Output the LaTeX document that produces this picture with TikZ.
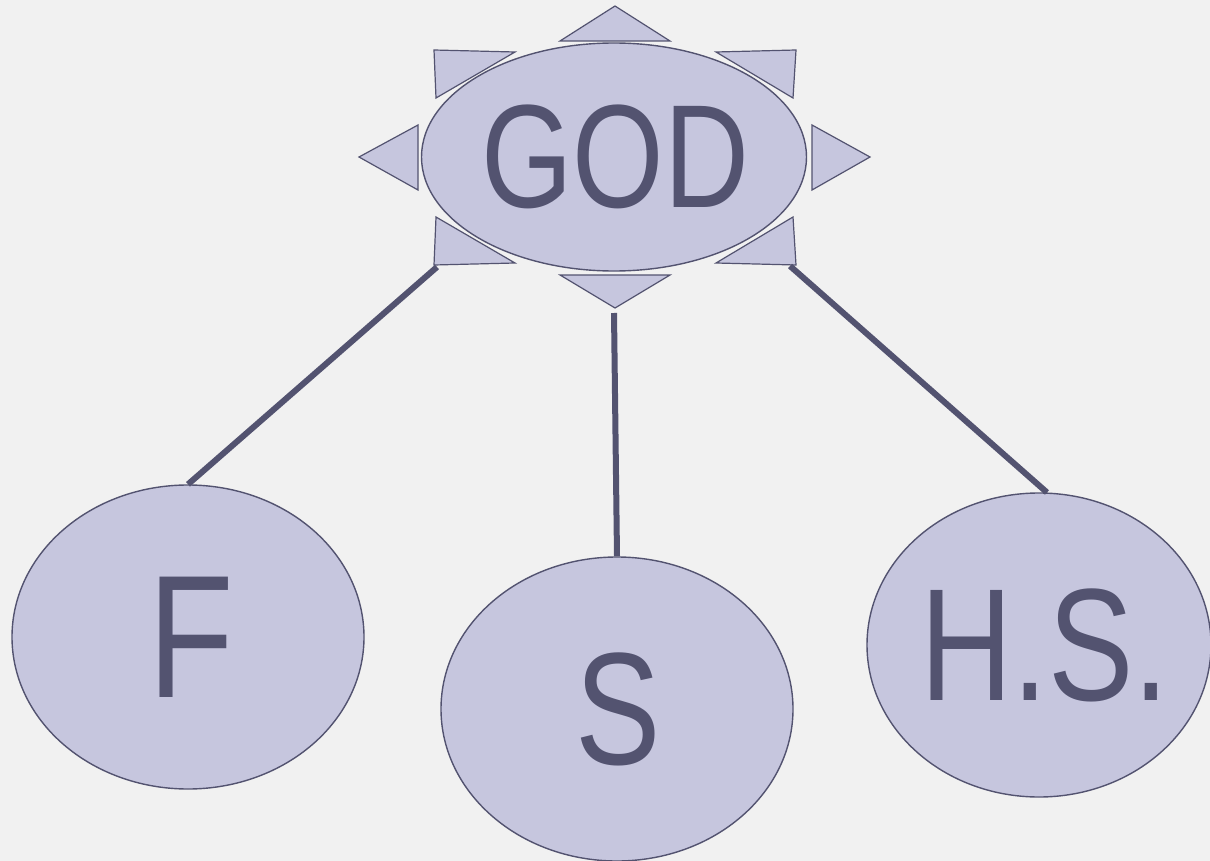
\documentclass[tikz,border=0pt]{standalone}
\usepackage{fontspec}
\setmainfont{Liberation Sans}
\usetikzlibrary{shapes.geometric}
\definecolor{bgc}{HTML}{F1F1F1}
\definecolor{fillc}{HTML}{C6C6DE}
\definecolor{darkc}{HTML}{535370}
\tikzset{
  blob/.style={ellipse, draw=darkc, fill=fillc, line width=1.4pt, inner sep=0pt, text=darkc},
  ray/.style={draw=darkc, fill=fillc, line width=1.2pt, line join=miter},
  conn/.style={draw=darkc, line width=6pt}
}
\newcommand{\lbl}[3]{\makebox[0pt][c]{\hspace*{#3}\raisebox{-4pt}{\fontsize{#1}{#1}\selectfont\scalebox{0.8}[1]{#2}}}}
\begin{document}
\begin{tikzpicture}[x=1pt,y=-1pt]
\useasboundingbox (0,0) rectangle (1210,861);
\fill[bgc] (0,0) rectangle (1210,861);
% rays around GOD
\draw[ray] (560,41) -- (670,41) -- (615,6) -- cycle;
\draw[ray] (560,275) -- (670,275) -- (615,308) -- cycle;
\draw[ray] (418,125) -- (418,190) -- (359,157) -- cycle;
\draw[ray] (812,125) -- (812,190) -- (870,157) -- cycle;
\draw[ray] (434,50) -- (515,52) -- (436,98) -- cycle;
\draw[ray] (796,50) -- (716,52) -- (793,98) -- cycle;
\draw[ray] (436,217) -- (434,265) -- (515,263) -- cycle;
\draw[ray] (793,217) -- (796,265) -- (716,263) -- cycle;
% nodes
\node[blob, minimum width=385pt, minimum height=228pt] (god) at (614,157) {\lbl{147}{GOD}{2pt}};
\node[blob, minimum width=352pt, minimum height=304pt] (f) at (188,637) {\lbl{175}{F}{6pt}};
\node[blob, minimum width=352pt, minimum height=304pt] (s) at (617,709) {\lbl{160}{S}{2pt}};
\node[blob, minimum width=344pt, minimum height=304pt] (hs) at (1039,645) {\lbl{160}{H.S.}{12pt}};
% connector start points
\coordinate (lstart) at (437,267);
\coordinate (mstart) at (614,313);
\coordinate (rstart) at (790,266);
\draw[conn] (lstart) -- (f.north);
\draw[conn] (mstart) -- (s.north);
\draw[conn] (rstart) -- (hs.87);
\end{tikzpicture}
\end{document}
